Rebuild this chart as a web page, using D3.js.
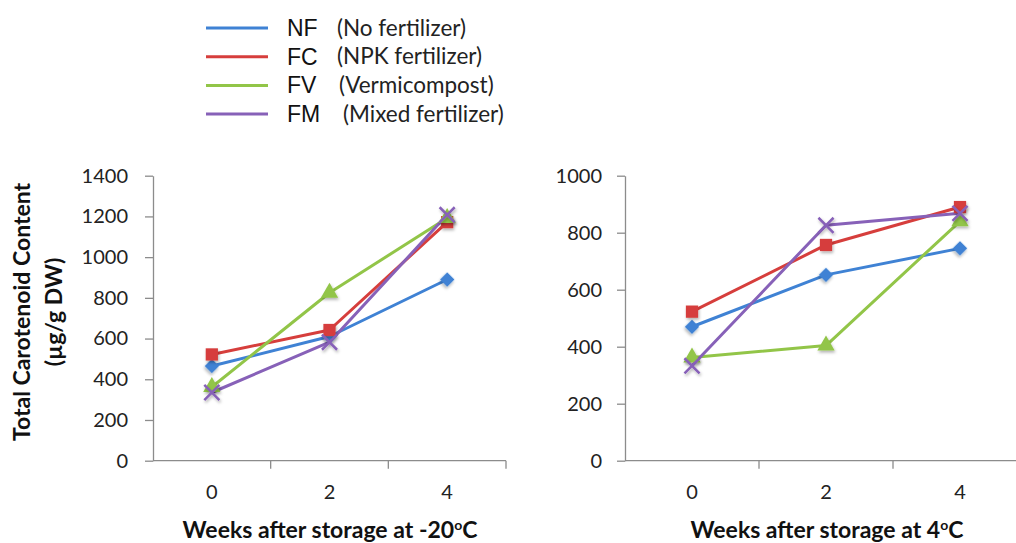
<!DOCTYPE html>
<html>
<head>
<meta charset="utf-8">
<script src="https://cdnjs.cloudflare.com/ajax/libs/d3/7.8.5/d3.min.js"></script>
<style>
    body { margin: 0; background: #fff; }
    svg { display: block; }
    .axis path, .axis line { stroke: #8c8c8c; stroke-width: 1.3; }
    .axis text { font-family: Lato, "Open Sans", sans-serif; font-size: 20px; fill: #222; }
    .title { font-family: Lato, "Open Sans", sans-serif; font-weight: bold; fill: #111; }
</style>
</head>
<body>
<div id="chart"></div>
<script>

// weeks after storage
let weeks = ["0", "2", "4"];

let seriesNames = ["NF", "FC", "FV", "FM"];
let seriesDesc = ["(No fertilizer)", "(NPK fertilizer)", "(Vermicompost)", "(Mixed fertilizer)"];

// storage at -20 C
let nfMinus20 = [465, 610, 890];
let fcMinus20 = [522, 642, 1172];
let fvMinus20 = [362, 825, 1192];
let fmMinus20 = [335, 582, 1208];

// storage at 4 C
let nf4 = [470, 652, 745];
let fc4 = [523, 757, 890];
let fv4 = [362, 404, 840];
let fm4 = [333, 826, 868];

let leftTicks = [0, 200, 400, 600, 800, 1000, 1200, 1400];
let rightTicks = [0, 200, 400, 600, 800, 1000];

let colors = ["#3f82d4", "#d63e3c", "#92c548", "#8761b8"];

let width = 1016, height = 543;

let svg = d3.select("#chart").append("svg")
    .attr("width", width)
    .attr("height", height);

let defs = svg.append("defs");
let shadow = defs.append("filter").attr("id", "shadow")
    .attr("x", "-50%").attr("y", "-50%").attr("width", "200%").attr("height", "200%");
shadow.append("feDropShadow")
    .attr("dx", 1).attr("dy", 2).attr("stdDeviation", 1.5)
    .attr("flood-color", "#000").attr("flood-opacity", 0.3);

// legend
let legend = svg.append("g");
seriesNames.forEach((name, i) => {
    let y = 28 + i * 28.7;
    legend.append("line")
        .attr("x1", 206).attr("x2", 268)
        .attr("y1", y).attr("y2", y)
        .attr("stroke", colors[i])
        .attr("stroke-width", 3);
    legend.append("text")
        .attr("x", 287).attr("y", y + 8)
        .style("font-family", "'Liberation Sans', Arial, sans-serif")
        .style("font-size", "23px")
        .attr("fill", "#111")
        .text(name);
    legend.append("text")
        .attr("x", [337, 337, 339, 343][i]).attr("y", y + 7.5)
        .style("font-family", "Lato, 'Open Sans', sans-serif")
        .style("font-size", "22.5px")
        .attr("fill", "#222")
        .text(seriesDesc[i]);
});

function marker(si) {
    // Excel-like marker shapes
    if (si === 0) return d3.symbol().type(d3.symbolSquare).size(105)();
    if (si === 1) return d3.symbol().type(d3.symbolSquare).size(150)();
    if (si === 2) return d3.symbol().type(d3.symbolTriangle).size(130)();
    return d3.symbol().type(d3.symbolX).size(150)();
}

function drawPanel(opts) {

    let x = d3.scaleBand()
        .domain(weeks)
        .range([opts.left, opts.right])
        .padding(0);

    let y = d3.scaleLinear()
        .domain([0, d3.max(opts.ticks)])
        .range([460.7, 175.7]);

    let g = svg.append("g");

    // y axis
    let yAxis = d3.axisLeft(y)
        .tickValues(opts.ticks)
        .tickFormat(d3.format("d"))
        .tickSize(8)
        .tickSizeOuter(0)
        .tickPadding(opts.pad);

    g.append("g")
        .classed("axis", true)
        .attr("transform", `translate(${opts.left},0)`)
        .call(yAxis);

    // x axis with ticks at category boundaries
    let xAxis = d3.axisBottom(x)
        .tickSize(0)
        .tickPadding(24);

    let xg = g.append("g")
        .classed("axis", true)
        .attr("transform", `translate(0,${y(0)})`)
        .call(xAxis);

    xg.select(".domain").remove();
    xg.append("line")
        .attr("x1", opts.left).attr("x2", opts.right)
        .attr("y1", 0).attr("y2", 0);
    xg.selectAll(".edge")
        .data(weeks.slice(1).concat(["end"]))
        .enter().append("line")
        .attr("class", "edge")
        .attr("x1", d => d === "end" ? opts.right : x(d))
        .attr("x2", d => d === "end" ? opts.right : x(d))
        .attr("y1", 0).attr("y2", 8);

    let line = d3.line()
        .x((d, i) => x(weeks[i]) + x.bandwidth() / 2)
        .y(d => y(d));

    opts.series.forEach((vals, si) => {
        g.append("path")
            .datum(vals)
            .attr("fill", "none")
            .attr("stroke", colors[si])
            .attr("stroke-width", 3)
            .attr("stroke-linejoin", "round")
            .attr("d", line);
    });

    opts.series.forEach((vals, si) => {
        g.selectAll(".m" + si)
            .data(vals)
            .enter().append("path")
            .attr("class", "m" + si)
            .attr("transform", (d, i) => {
                let rot = si === 0 ? 45 : 0;
                return `translate(${x(weeks[i]) + x.bandwidth() / 2},${y(d)}) rotate(${rot})`;
            })
            .attr("d", marker(si))
            .attr("fill", si === 3 ? "none" : colors[si])
            .attr("stroke", si === 3 ? colors[si] : "none")
            .attr("stroke-width", 2.5)
            .attr("filter", "url(#shadow)");
    });

    // x title
    let t = g.append("text")
        .classed("title", true)
        .attr("x", opts.titleX)
        .attr("y", 538)
        .attr("text-anchor", "middle")
        .style("font-size", "23px");
    t.append("tspan").text(opts.title);
    t.append("tspan").attr("dy", -8).style("font-size", "14px").text("o");
    t.append("tspan").attr("dy", 8).text("C");
}

drawPanel({
    left: 153, right: 506,
    ticks: leftTicks,
    pad: 17,
    series: [nfMinus20, fcMinus20, fvMinus20, fmMinus20],
    title: "Weeks after storage at -20",
    titleX: 330
});

drawPanel({
    left: 625, right: 1027,
    ticks: rightTicks,
    pad: 15,
    series: [nf4, fc4, fv4, fm4],
    title: "Weeks after storage at 4",
    titleX: 827
});

// y axis title
let yt = svg.append("text")
    .classed("title", true)
    .attr("transform", "translate(0,312) rotate(-90)")
    .attr("text-anchor", "middle")
    .style("font-size", "23px");
yt.append("tspan").attr("x", 0).attr("y", 30).text("Total Carotenoid Content");
yt.append("tspan").attr("x", 0).attr("y", 62).text("(µg/g DW)");

</script>
</body>
</html>
